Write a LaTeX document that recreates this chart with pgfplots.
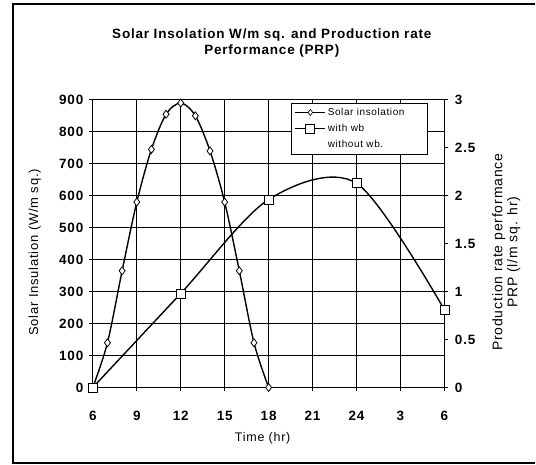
\documentclass[border=0pt]{standalone}
\usepackage{fontspec}
\setmainfont{Liberation Sans}[LetterSpace=6]
\usepackage{pgfplots}
\pgfplotsset{compat=1.18}
\pgfplotstableread{
t    s
6    0
7    140
8    365
9    580
10   745
11   855
12   890
13   850
14   740
15   580
16   365
17   140
18   0
}\solar
\pgfplotstableread{
t    p
6    0
12   0.98
18   1.96
24   2.13
30   0.81
}\withwb
\begin{document}
\begin{tikzpicture}
\begin{axis}[
  name=main,
  scale only axis,
  width=352pt, height=288pt,
  clip=false,
  xmin=6, xmax=30, ymin=0, ymax=900,
  xtick={6,9,...,30}, xticklabels={6,9,12,15,18,21,24,3,6},
  ytick={0,100,...,900},
  xtick pos=bottom, ytick pos=left,
  tick align=outside, major tick length=4pt,
  grid=major, major grid style={black, line width=0.9pt},
  axis line style={black, line width=1pt},
  tick style={black, line width=1pt},
  /pgf/number format/assume math mode=true,
  ticklabel style={font=\bfseries\fontsize{13.5}{15}\selectfont},
  xticklabel style={yshift=-16pt},
  yticklabel style={xshift=-2pt},
  ylabel={Solar Insulation (W/m sq.)},
  ylabel style={at={(axis description cs:-0.165,0.47)}, anchor=center, font=\fontsize{13}{15}\selectfont},
  xlabel={Time (hr)},
  xlabel style={at={(axis description cs:0.483,-0.177)}, anchor=center, font=\fontsize{12.5}{15}\selectfont},
]
\addplot[black, line width=1.4pt, smooth, tension=0.5, mark=diamond*, mark size=4pt,
  mark options={fill=white, line width=0.8pt}] table[x=t,y=s] {\solar};
\node[align=center, font=\bfseries\fontsize{13.5}{16}\selectfont] at (axis description cs:0.509,1.198) {Solar Insolation W/m sq. and Production rate\\Performance (PRP)};
\draw[line width=1.4pt] (axis description cs:1.2585,1.333) -- (axis description cs:-0.227,1.333) -- (axis description cs:-0.227,-0.262) -- (axis description cs:1.2585,-0.262);
\path (axis description cs:-0.264,1.347) rectangle (axis description cs:1.2585,-0.267);
\end{axis}
\begin{axis}[
  scale only axis,
  at={(main.south west)}, anchor=south west,
  width=352pt, height=288pt,
  xmin=6, xmax=30, ymin=0, ymax=3,
  axis x line=none, axis y line*=right,
  ytick={0,0.5,...,3},
  tick align=outside, major tick length=4pt,
  axis line style={black, line width=1pt},
  tick style={black, line width=1pt},
  /pgf/number format/assume math mode=true,
  ticklabel style={font=\bfseries\fontsize{13.5}{15}\selectfont},
  yticklabel style={xshift=3pt},
  ylabel={Production rate performance\\PRP (l/m sq. hr)},
  ylabel style={at={(axis description cs:1.176,0.47)}, anchor=center, align=center, font=\fontsize{14}{15}\selectfont},
  legend style={at={(axis description cs:0.565,0.99)}, anchor=north west,
    draw=black, line width=0.8pt, fill=white, font=\fontsize{10}{12}\selectfont,
    row sep=3.5pt, inner xsep=3pt, inner ysep=3pt,
    /tikz/every even column/.append style={column sep=1pt}},
  legend cell align=left,
  legend image code/.code={\draw[mark repeat=2, mark phase=2, #1, line width=1pt] plot coordinates {(0pt,0pt) (15pt,0pt) (30pt,0pt)};},
]
\addlegendimage{black, mark=diamond*, mark size=3pt, mark options={fill=white, line width=0.6pt}}
\addlegendentry{Solar insolation\hspace*{18pt}}
\addplot[black, line width=1.4pt, smooth, tension=0.5, mark=square*, mark size=4.5pt,
  mark options={fill=white, line width=0.8pt}] table[x=t,y=p] {\withwb};
\addlegendentry{with wb}
\addlegendimage{empty legend}
\addlegendentry{without wb.}
\end{axis}
\end{tikzpicture}
\end{document}
